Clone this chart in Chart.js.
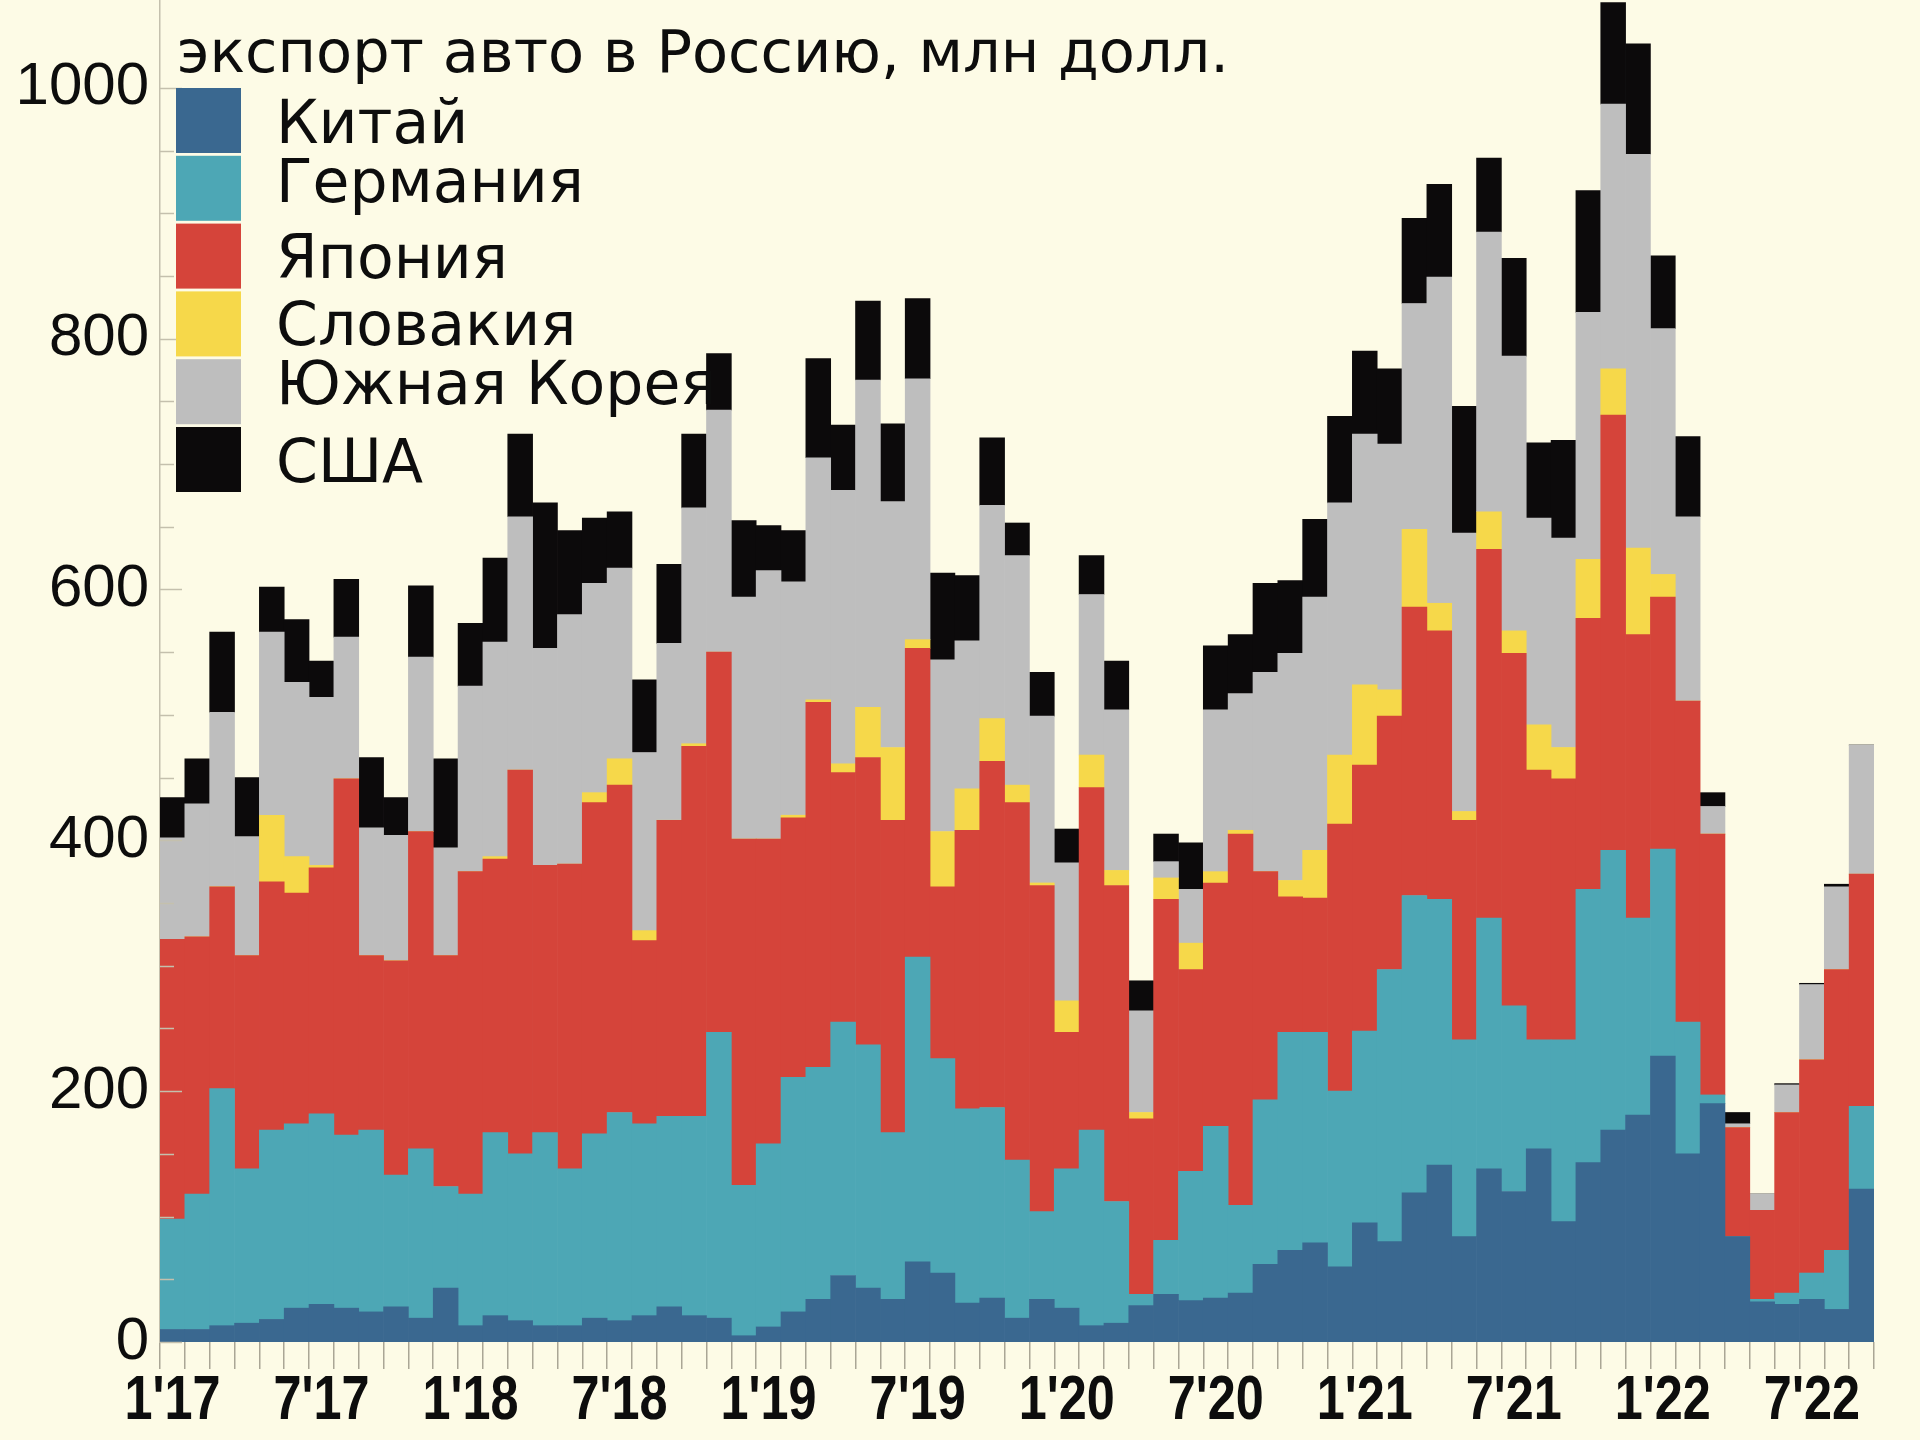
<!DOCTYPE html>
<html lang="ru">
<head>
<meta charset="utf-8">
<title>Экспорт авто в Россию</title>
<script src="https://cdn.jsdelivr.net/npm/chart.js@4.4.1/dist/chart.umd.min.js"></script>
<style>
  html, body { margin: 0; padding: 0; background: #fdfbe6; }
  #wrap { width: 1920px; height: 1440px; }
</style>
</head>
<body>
<div id="wrap"><canvas id="exportChart" width="1920" height="1440"></canvas></div>
<script>
// экспорт авто в Россию, млн долл. (помесячно, 1'17 - 9'22)

const titleText = 'экспорт авто в Россию, млн долл.';

const months = [
    "1'17", "2'17", "3'17", "4'17", "5'17", "6'17", "7'17", "8'17", "9'17", "10'17", "11'17", "12'17",
    "1'18", "2'18", "3'18", "4'18", "5'18", "6'18", "7'18", "8'18", "9'18", "10'18", "11'18", "12'18",
    "1'19", "2'19", "3'19", "4'19", "5'19", "6'19", "7'19", "8'19", "9'19", "10'19", "11'19", "12'19",
    "1'20", "2'20", "3'20", "4'20", "5'20", "6'20", "7'20", "8'20", "9'20", "10'20", "11'20", "12'20",
    "1'21", "2'21", "3'21", "4'21", "5'21", "6'21", "7'21", "8'21", "9'21", "10'21", "11'21", "12'21",
    "1'22", "2'22", "3'22", "4'22", "5'22", "6'22", "7'22", "8'22", "9'22"
];

const countries = ['Китай', 'Германия', 'Япония', 'Словакия', 'Южная Корея', 'США'];
const colors = ['#3a6890', '#4da7b5', '#d5443a', '#f6d84a', '#bebebe', '#0c0a0b'];

const china = [
    10, 10, 13, 15, 18, 27, 30, 27, 24, 28, 19, 43,
    13, 21, 17, 13, 13, 19, 17, 21, 28, 21, 19, 5,
    12, 24, 34, 53, 43, 34, 64, 55, 31, 35, 19, 34,
    27, 13, 15, 29, 38, 33, 35, 39, 62, 73, 79, 60,
    95, 80, 119, 141, 84, 138, 120, 154, 96, 143, 169, 181,
    228, 150, 190, 84, 32, 30, 34, 26, 122
];
const germany = [
    88, 108, 189, 123, 151, 147, 152, 138, 145, 105, 135, 81,
    105, 146, 133, 154, 125, 147, 166, 153, 152, 159, 228, 120,
    146, 187, 185, 202, 194, 133, 243, 171, 155, 152, 126, 70,
    111, 156, 97, 9, 43, 103, 137, 70, 131, 174, 168, 140,
    153, 217, 237, 212, 157, 200, 148, 87, 145, 218, 223, 157,
    165, 105, 7, 0, 2, 9, 21, 47, 66
];
const japan = [
    223, 205, 161, 170, 198, 184, 196, 284, 139, 171, 253, 184,
    257, 218, 306, 213, 243, 264, 261, 146, 236, 295, 303, 276,
    243, 207, 291, 199, 229, 249, 246, 137, 222, 276, 285, 260,
    109, 273, 252, 140, 272, 161, 194, 296, 182, 108, 107, 213,
    212, 202, 230, 214, 175, 294, 281, 215, 208, 216, 347, 226,
    201, 256, 208, 87, 71, 144, 170, 224, 185
];
const slovakia = [
    0, 0, 0, 0, 53, 29, 2, 0, 0, 0, 0, 0,
    0, 2, 0, 0, 0, 8, 21, 8, 0, 2, 0, 0,
    0, 2, 2, 7, 40, 58, 7, 44, 33, 34, 14, 2,
    25, 26, 12, 5, 17, 21, 9, 3, 0, 13, 38, 55,
    64, 21, 62, 22, 7, 30, 18, 36, 25, 47, 37, 69,
    18, 0, 0, 0, 0, 0, 0, 0, 0
];
const korea = [
    81, 106, 139, 95, 146, 139, 134, 113, 102, 100, 139, 86,
    148, 171, 202, 173, 199, 167, 152, 142, 141, 188, 193, 193,
    214, 186, 193, 218, 261, 196, 208, 137, 118, 170, 183, 133,
    110, 128, 128, 81, 13, 43, 129, 109, 159, 181, 202, 201,
    200, 196, 180, 260, 222, 223, 219, 165, 167, 197, 211, 314,
    196, 147, 22, 3, 13, 22, 60, 66, 103
];
const usa = [
    32, 36, 64, 47, 36, 50, 29, 46, 56, 30, 57, 71,
    50, 67, 66, 116, 67, 52, 45, 58, 63, 59, 45, 61,
    36, 41, 79, 52, 63, 62, 64, 69, 52, 54, 26, 35,
    27, 31, 39, 24, 22, 37, 51, 47, 71, 58, 62, 69,
    66, 60, 68, 74, 101, 59, 78, 60, 78, 97, 81, 88,
    58, 64, 11, 9, 0, 1, 1, 2, 0
];

const series = [china, germany, japan, slovakia, korea, usa];
const labelEvery = 6;

// title, legend, month labels and the small inward ticks of the value axis
const overlay = {
    id: 'overlay',
    afterDatasetsDraw(chart) {
        const ctx = chart.ctx;
        const x = chart.scales.x;
        const y = chart.scales.y;
        const left = chart.chartArea.left;
        ctx.save();

        ctx.strokeStyle = '#c4c0ad';
        ctx.lineWidth = 1.5;
        y.ticks.forEach(t => {
            if (t.value % 50 !== 0) return;
            const py = Math.round(y.getPixelForValue(t.value)) + 0.5;
            const len = t.value % 200 === 0 ? 22 : 14;
            ctx.beginPath();
            ctx.moveTo(left, py);
            ctx.lineTo(left + len, py);
            ctx.stroke();
        });

        ctx.fillStyle = '#0d0d0d';
        ctx.textBaseline = 'alphabetic';
        ctx.textAlign = 'left';
        ctx.font = '59px "DejaVu Sans"';
        ctx.fillText(titleText, 177, 72);

        const baselines = [143, 202, 278, 345, 404, 482];
        ctx.font = '60px "DejaVu Sans"';
        chart.data.datasets.forEach((ds, i) => {
            const top = 88 + i * 67.8;
            ctx.fillStyle = ds.backgroundColor;
            ctx.fillRect(176, top, 65, 65);
            ctx.fillStyle = '#0d0d0d';
            ctx.fillText(ds.label, 276, baselines[i]);
        });

        // month labels, narrowed like the original
        ctx.font = 'bold 63px "Liberation Sans", Arial, sans-serif';
        ctx.textAlign = 'center';
        months.forEach((m, i) => {
            if (i % labelEvery !== 0) return;
            ctx.save();
            ctx.translate(x.getPixelForValue(i), 1419);
            ctx.scale(0.8, 1);
            ctx.fillText(m, 0, 0);
            ctx.restore();
        });
        ctx.restore();
    }
};

const ctx = document.getElementById('exportChart').getContext('2d');
new Chart(ctx, {
    type: 'bar',
    data: {
        labels: months,
        datasets: countries.map((name, i) => ({
            label: name,
            data: series[i],
            backgroundColor: colors[i],
            borderWidth: 0,
            barPercentage: 1.0,
            categoryPercentage: 1.0
        }))
    },
    options: {
        responsive: false,
        animation: false,
        layout: { padding: { top: 0, right: 46, bottom: 0, left: 0 } },
        plugins: {
            legend: { display: false },
            tooltip: { enabled: false }
        },
        scales: {
            x: {
                stacked: true,
                offset: true,
                afterFit(s) {
                    s.height = 98;
                    s.paddingLeft = 0;
                    s.paddingRight = 0;
                },
                grid: {
                    display: true,
                    drawOnChartArea: false,
                    drawTicks: true,
                    offset: true,
                    tickLength: 27,
                    color: '#aaa695',
                    lineWidth: 1.5
                },
                border: { display: false },
                ticks: { display: false, autoSkip: false }
            },
            y: {
                stacked: true,
                min: 0,
                max: 1070,
                afterFit(s) {
                    s.width = 160;
                    s.paddingTop = 0;
                    s.paddingBottom = 0;
                },
                grid: { display: false },
                border: { display: true, color: '#c4c0ad', width: 1.5 },
                ticks: {
                    stepSize: 50,
                    autoSkip: false,
                    padding: 3,
                    color: '#0d0d0d',
                    font: { family: '"Liberation Sans", Arial, sans-serif', size: 60 },
                    callback: v => v % 200 === 0 ? v : ''
                }
            }
        }
    },
    plugins: [overlay]
});
</script>
</body>
</html>
